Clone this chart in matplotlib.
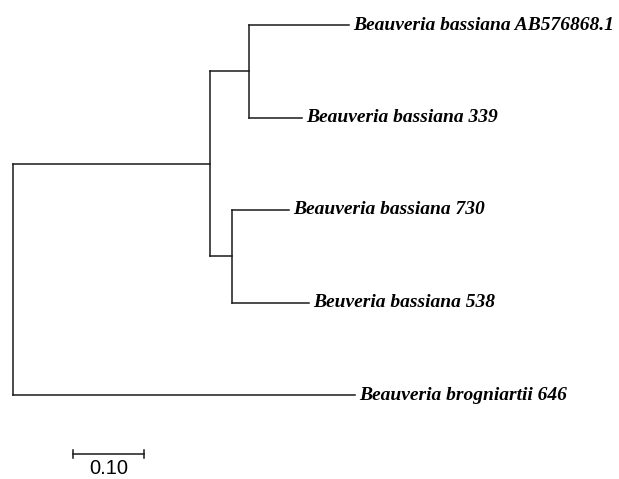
import matplotlib
matplotlib.use("Agg")
import matplotlib.pyplot as plt

# tree topology: node -> (parent, branch length); leaves carry labels
node_names = ["root", "A", "B", "C",
              "AB576868", "339", "730", "538", "646"]
parents = [None, "root", "A", "A", "B", "B", "C", "C", "root"]
branch_len = [0.0, 0.277, 0.055, 0.032, 0.141, 0.075, 0.080, 0.108, 0.482]

leaf_ids = ["AB576868", "339", "730", "538", "646"]
leaf_labels = ["Beauveria bassiana AB576868.1",
               "Beauveria bassiana 339",
               "Beauveria bassiana 730",
               "Beuveria bassiana 538",
               "Beauveria brogniartii 646"]
leaf_rows = [0, 1, 2, 3, 4]

scale_value = 0.10
scale_label = "0.10"

par = dict(zip(node_names, parents))
blen = dict(zip(node_names, branch_len))

depth = {}
for n in node_names:
    d, cur = 0.0, n
    while cur is not None:
        d += blen[cur]
        cur = par[cur]
    depth[n] = d

ypos = dict(zip(leaf_ids, leaf_rows))
children = {n: [c for c in node_names if par[c] == n] for n in node_names}


def get_y(n):
    if n in ypos:
        return ypos[n]
    ys = [get_y(c) for c in children[n]]
    ypos[n] = (min(ys) + max(ys)) / 2
    return ypos[n]


get_y("root")

fig = plt.figure(figsize=(6.19, 4.79), dpi=100)
ax = fig.add_axes([0, 0, 1, 1])
px = 710.0
row = 92.5  # pixels per leaf row
ax.set_xlim(-13 / px, (619 - 13) / px)
ax.set_ylim((479 - 25) / row, -25 / row)
ax.axis("off")

lw = 1.1
col = "#1a1a1a"
for n in node_names:
    p = par[n]
    if p is None:
        continue
    ax.plot([depth[p], depth[n]], [ypos[n], ypos[n]], color=col, lw=lw,
            solid_capstyle="projecting")
for n in node_names:
    kids = children[n]
    if kids:
        ys = [ypos[c] for c in kids]
        ax.plot([depth[n], depth[n]], [min(ys), max(ys)], color=col, lw=lw,
                solid_capstyle="projecting")

for lid, lab in zip(leaf_ids, leaf_labels):
    ax.text(depth[lid] + 4 / px, ypos[lid], lab, ha="left", va="center",
            family="Liberation Serif", style="italic", weight="bold",
            fontsize=14)

# scale bar
x0 = (73 - 13) / px
sy = (454 - 25) / row
ax.plot([x0, x0 + scale_value], [sy, sy], color=col, lw=lw)
for xe in (x0, x0 + scale_value):
    ax.plot([xe, xe], [sy - 4 / row, sy + 4 / row], color=col, lw=lw)
ax.text(x0 + scale_value / 2, sy + 15 / row, scale_label, ha="center",
        va="center", family="Liberation Sans", fontsize=14.5)

fig.savefig("out.png", dpi=100)
